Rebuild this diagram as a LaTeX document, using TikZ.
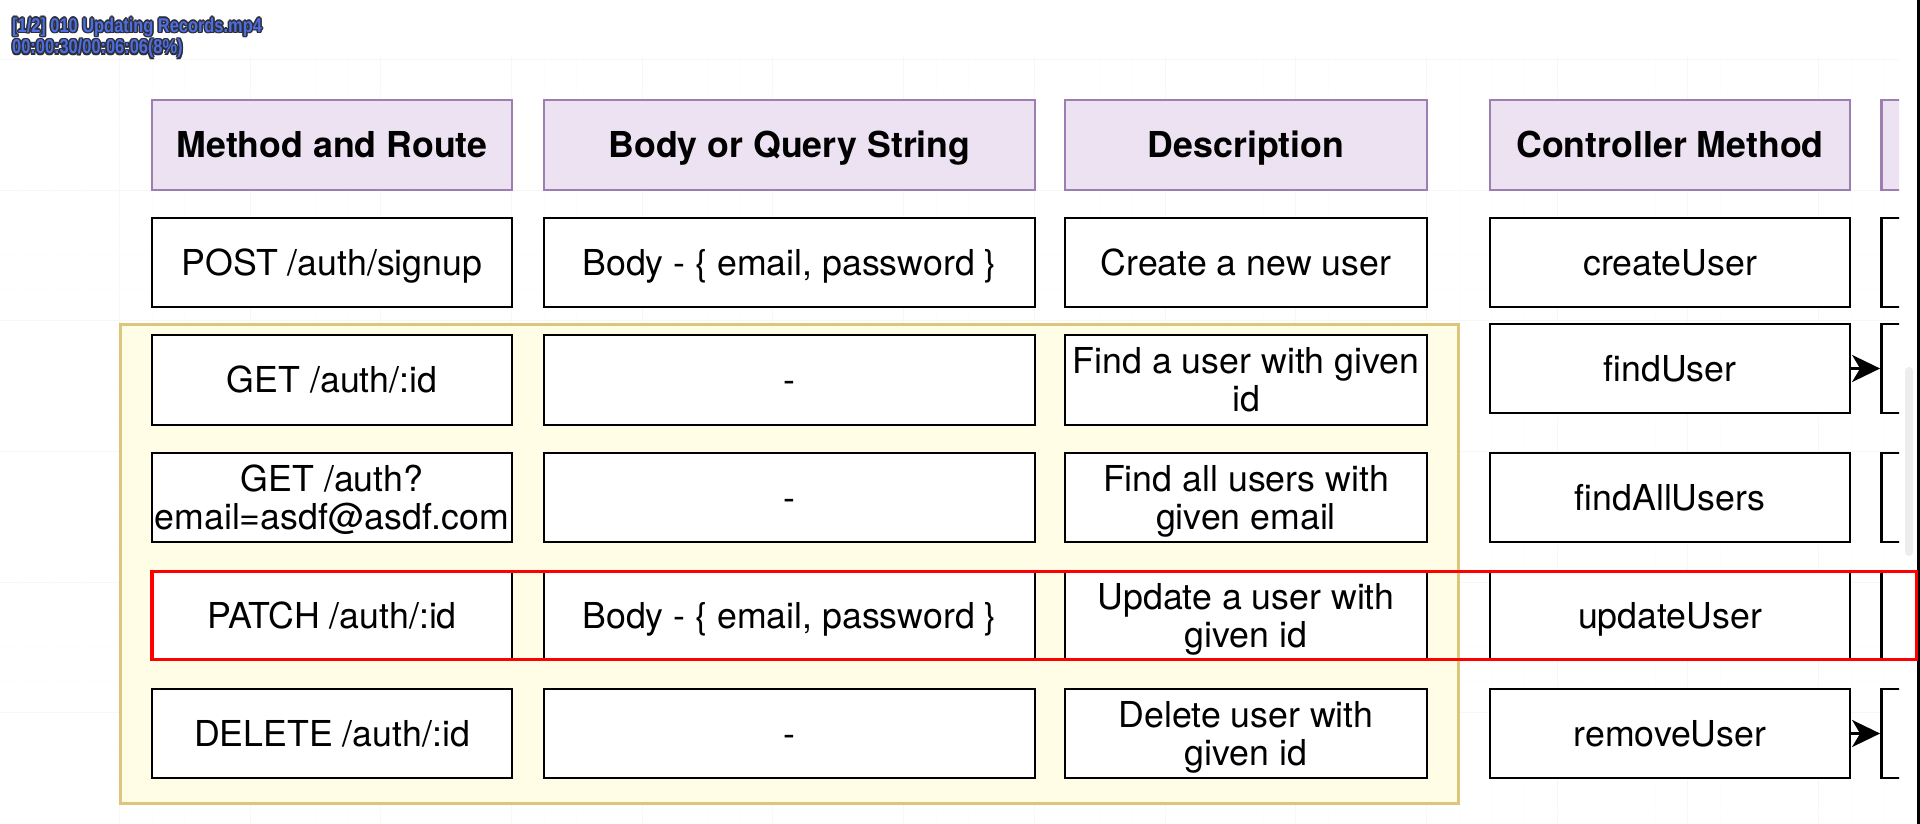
\documentclass[tikz,border=0pt]{standalone}
\usepackage{fontspec}
\setmainfont{TeX Gyre Heros}
\newfontfamily\osdfont[FakeStretch=0.82]{Liberation Sans Bold}
\usetikzlibrary{arrows.meta}
\definecolor{hdrfill}{HTML}{ECE2F2}
\definecolor{hdrline}{HTML}{9C7EB0}
\definecolor{yelfill}{HTML}{FFFDE6}
\definecolor{yelline}{HTML}{DCC67C}
\definecolor{gridmin}{HTML}{FDFDFD}
\definecolor{gridmaj}{HTML}{F7F7F7}
\definecolor{osdblue}{HTML}{4C6EE0}
\definecolor{osdedge}{HTML}{2E2E3A}
\definecolor{scrollc}{HTML}{EDEDED}
\newcommand\cellfont{\fontsize{35.7pt}{38.3pt}\selectfont}
\newcommand\osdsize{\fontsize{20pt}{20pt}\selectfont}
\begin{document}
\begin{tikzpicture}[x=1pt,y=-1pt,
  hdr/.style={draw=hdrline, fill=hdrfill, line width=2.6pt, inner sep=0pt,
    font=\cellfont\bfseries, minimum height=90pt, text height=25.6pt, text depth=0pt},
  cell/.style={draw=black, fill=white, line width=2.8pt, inner sep=0pt,
    font=\cellfont, minimum height=89pt},
  one/.style={text height=25.6pt, text depth=0pt},
  two/.style={align=center},
  wa/.style={minimum width=360pt},
  wb/.style={minimum width=491pt},
  wc/.style={minimum width=362pt},
  osd/.style={anchor=base west, inner sep=0pt, font=\osdfont\osdsize},
  conn/.style={line width=2.8pt, draw=black, -{Stealth[length=28pt,width=27pt,inset=8pt]}}
]
\useasboundingbox (0,0) rectangle (1920,824);
\fill[white] (0,0) rectangle (1920,824);

% faint canvas grid
\foreach \i in {0,...,57} {
  \pgfmathtruncatemacro\m{mod(\i,4)}
  \ifnum\m=3
    \draw[gridmaj, line width=1pt] ({21.375+\i*32.675},55) -- ({21.375+\i*32.675},824);
  \else
    \draw[gridmin, line width=1pt] ({21.375+\i*32.675},55) -- ({21.375+\i*32.675},824);
  \fi
}
\foreach \j in {1,...,24} {
  \pgfmathtruncatemacro\m{mod(\j,4)}
  \ifnum\m=1
    \draw[gridmaj, line width=1pt] (0,{26.625+\j*32.675}) -- (1899,{26.625+\j*32.675});
  \else
    \draw[gridmin, line width=1pt] (0,{26.625+\j*32.675}) -- (1899,{26.625+\j*32.675});
  \fi
}

% yellow group
\draw[draw=yelline, fill=yelfill, line width=3pt] (120,324) rectangle (1458,803);

% headers
\node[hdr, wa] (h1) at (332,145) {Method and Route};
\node[hdr, wb] (h2) at (789.5,145) {Body or Query String};
\node[hdr, wc] (h3) at (1246,145) {Description};
\node[hdr, wa] (h4) at (1670,145) {Controller Method};

% row 1
\node[cell, wa, one] (a1) at (332,262.5) {POST /auth/signup};
\node[cell, wb, one] (b1) at (789.5,262.5) {Body - \{ email, password \}};
\node[cell, wc, one] (c1) at (1246,262.5) {Create a new user};
\node[cell, wa, one] (d1) at (1670,262.5) {createUser};

% row 2
\node[cell, wa, one, minimum height=90pt] (a2) at (332,380) {GET /auth/:id};
\node[cell, wb, one, minimum height=90pt] (b2) at (789.5,380) {-};
\node[cell, wc, two, minimum height=90pt] (c2) at (1246,380) {Find a user with given\\id};
\node[cell, wa, one] (d2) at (1670,368.5) {findUser};

% row 3
\node[cell, wa, two] (a3) at (332,497.5) {GET /auth?\\\smash{email=asdf@asdf.com}};
\node[cell, wb, one] (b3) at (789.5,497.5) {-};
\node[cell, wc, two] (c3) at (1246,497.5) {Find all users with\\\smash{given email}};
\node[cell, wa, one] (d3) at (1670,497.5) {findAllUsers};

% row 4
\node[cell, wa, one, minimum height=88pt] (a4) at (332,615.6) {PATCH /auth/:id};
\node[cell, wb, one, minimum height=88pt] (b4) at (789.5,615.6) {Body - \{ email, password \}};
\node[cell, wc, two, minimum height=88pt] (c4) at (1246,615.6) {Update a user with\\\smash{given id}};
\node[cell, wa, one, minimum height=88pt] (d4) at (1670,615.6) {updateUser};

% row 5
\node[cell, wa, one] (a5) at (332,733.5) {DELETE /auth/:id};
\node[cell, wb, one] (b5) at (789.5,733.5) {-};
\node[cell, wc, two] (c5) at (1246,733.5) {Delete user with\\\smash{given id}};
\node[cell, wa, one] (d5) at (1670,733.5) {removeUser};

% partially visible fifth column
\begin{scope}
  \clip (1870,90) rectangle (1899,790);
  \node[hdr, wa] (h5) at (2061.5,145) {};
  \node[cell, wa] (e1) at (2061.5,262.5) {};
  \node[cell, wa] (e2) at (2061.5,368.5) {};
  \node[cell, wa] (e3) at (2061.5,497.5) {};
  \node[cell, wa, minimum height=88pt] (e4) at (2061.5,615.6) {};
  \node[cell, wa] (e5) at (2061.5,733.5) {};
\end{scope}

% connectors
\draw[conn] (d2.east) -- (e2.west);
\draw[conn] (d5.east) -- (e5.west);

% scrollbar and window edge
\fill[scrollc, rounded corners=4pt] (1905,367) rectangle (1913,556);
\fill[black] (1916.5,0) rectangle (1920,824);

% red highlight
\draw[red, line width=3.2pt] (152,571.6) rectangle (1916.5,659.4);

% video overlay text
\foreach \dx/\dy [count=\k] in {1.5/0,-1.5/0,0/1.5,0/-1.5,1.1/1.1,-1.1/1.1,1.1/-1.1,-1.1/-1.1} {
  \node[osd, text=osdedge] (oa\k) at ({12+\dx},{32.5+\dy}) {[1/2] 010 Updating Records.mp4};
  \node[osd, text=osdedge] (ob\k) at ({12+\dx},{54+\dy}) {00:00:30/00:06:06(8\%)};
}
\node[osd, text=osdblue] (oa) at (12,32.5) {[1/2] 010 Updating Records.mp4};
\node[osd, text=osdblue] (ob) at (12,54) {00:00:30/00:06:06(8\%)};
\end{tikzpicture}
\end{document}
